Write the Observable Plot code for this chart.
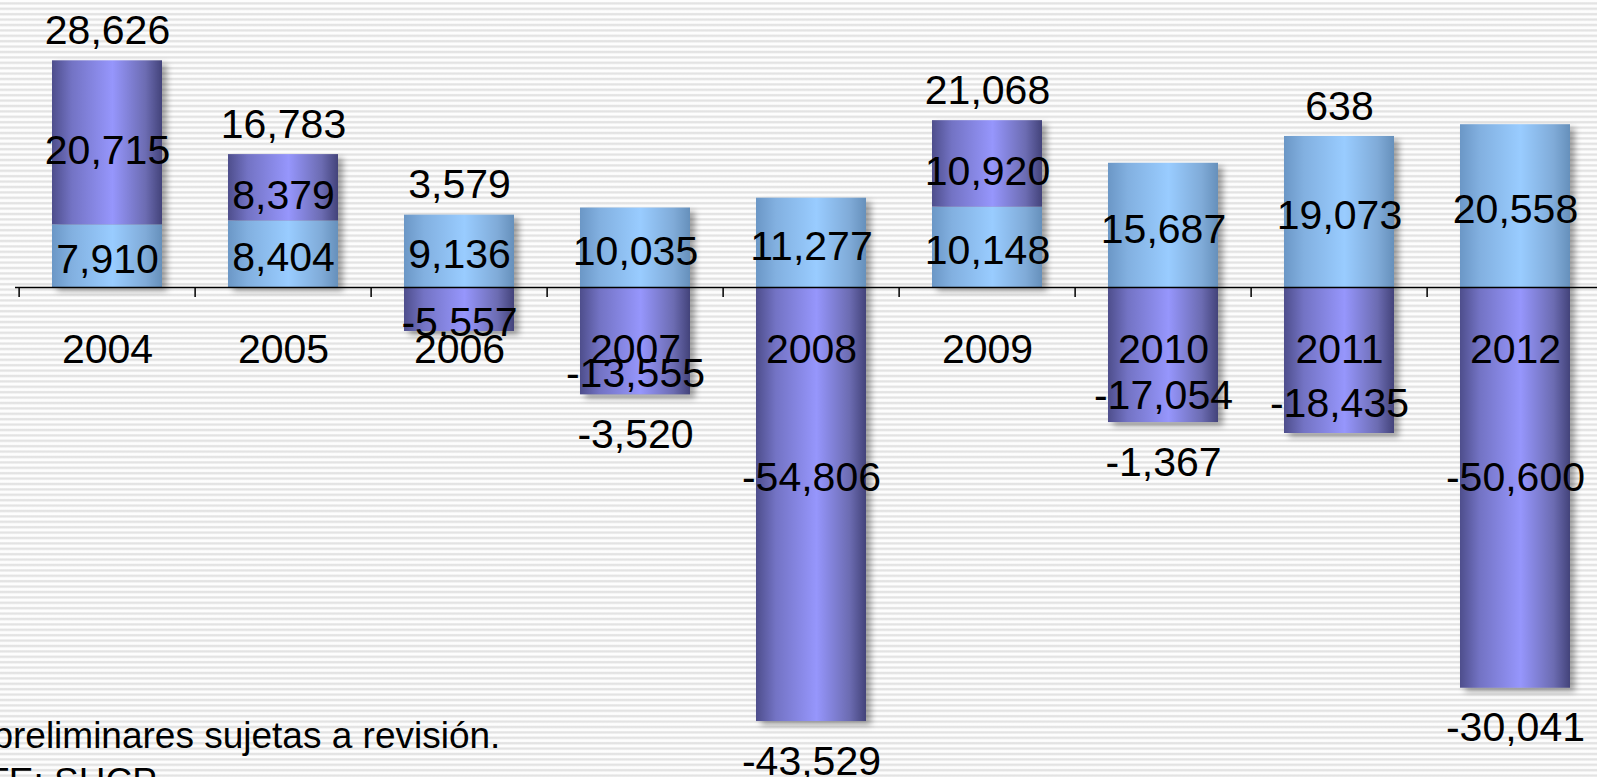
<!DOCTYPE html>
<html>
<head>
<meta charset="utf-8">
<script src="https://cdn.jsdelivr.net/npm/d3@7"></script>
<script src="https://cdn.jsdelivr.net/npm/@observablehq/plot@0.6"></script>
<style>
  html, body { margin: 0; padding: 0; background: #fff; overflow: hidden; }
  #chart svg {
    display: block;
    background: repeating-linear-gradient(to bottom, #fdfdfd 0px, #fdfdfd 1.6px, #e3e3e3 2.8px, #e3e3e3 3.8px, #fdfdfd 5.4px);
  }
  #chart g[aria-label="bar"] { filter: drop-shadow(5px 4px 3px rgba(0,0,0,0.35)); }
</style>
</head>
<body>
<div id="chart"></div>
<script>
// ---- data ----
const years = ["2004", "2005", "2006", "2007", "2008", "2009", "2010", "2011", "2012"];
const blueValues = [7910, 8404, 9136, 10035, 11277, 10148, 15687, 19073, 20558];
const purpleValues = [20715, 8379, -5557, -13555, -54806, 10920, -17054, -18435, -50600];
const totals = [28626, 16783, 3579, -3520, -43529, 21068, -1367, 638, -30041];
const notes = ["Cifras preliminares sujetas a revisión.", "FUENTE: SHCP"];

// ---- layout ----
const W = 1597, H = 777;
const xRange = [15.3, 1606];
const step = (xRange[1] - xRange[0]) / years.length;
const yDomain = [-61870, 36240];
const unitsPerPx = (yDomain[1] - yDomain[0]) / H;
const fmt = v => v.toLocaleString("en-US");
const FONT = "'Liberation Sans', Arial, Helvetica, sans-serif";

const rows = [];
years.forEach((y, i) => {
  rows.push({year: y, value: blueValues[i], fill: "url(#gBlue)"});
  rows.push({year: y, value: purpleValues[i], fill: "url(#gPurple)"});
});

const blueLabels = years.map((y, i) => ({year: y, v: blueValues[i], pos: blueValues[i] / 2}));
const purplePos = years.map((y, i) => ({year: y, v: purpleValues[i], a: blueValues[i]}))
  .filter(d => d.v > 0).map(d => ({...d, pos: d.a + d.v / 2}));
const purpleNeg = years.map((y, i) => ({year: y, v: purpleValues[i]}))
  .filter(d => d.v < 0).map(d => ({...d, pos: Math.max(d.v * 0.8, -24000)}));
const totalPos = years.map((y, i) => ({year: y, v: totals[i], top: blueValues[i] + Math.max(purpleValues[i], 0)}))
  .filter(d => d.v >= 0);
const totalNeg = years.map((y, i) => ({year: y, v: totals[i], bottom: Math.min(purpleValues[i], 0)}))
  .filter(d => d.v < 0);

const plot = Plot.plot({
  width: W,
  height: H,
  marginTop: 0, marginBottom: 0, marginLeft: 15, marginRight: 0,
  style: {fontFamily: FONT, color: "#000"},
  x: {type: "band", domain: years, range: xRange, paddingInner: 0.377, paddingOuter: 0.1885, axis: null},
  y: {domain: yDomain, axis: null},
  color: {type: "identity"},
  marks: [
    Plot.barY(rows, Plot.stackY({x: "year", y: "value", fill: "fill", order: null})),
    Plot.ruleY([0], {stroke: "#000", strokeWidth: 1.5}),
    Plot.ruleX(years, {x: d => d, y1: 0, y2: -10 * unitsPerPx, dx: -step / 2, stroke: "#000", strokeWidth: 1.5}),
    Plot.text(years, {x: d => d, y: 0, dy: 62, text: d => d, fontSize: 41}),
    Plot.text(blueLabels, {x: "year", y: "pos", dy: 4, text: d => fmt(d.v), fontSize: 41}),
    Plot.text(purplePos, {x: "year", y: "pos", dy: 8, text: d => fmt(d.v), fontSize: 41}),
    Plot.text(purpleNeg, {x: "year", y: "pos", text: d => fmt(d.v), fontSize: 41}),
    Plot.text(totalPos, {x: "year", y: "top", dy: -30, text: d => fmt(d.v), fontSize: 41}),
    Plot.text(totalNeg, {x: "year", y: "bottom", dy: 40, text: d => fmt(d.v), fontSize: 41}),
    Plot.text([notes[0]], {frameAnchor: "top-left", lineAnchor: "middle", dx: -130, dy: 736, textAnchor: "start", text: d => d, fontSize: 37}),
    Plot.text([notes[1]], {frameAnchor: "top-left", lineAnchor: "middle", dx: -130, dy: 782, textAnchor: "start", text: d => d, fontSize: 37})
  ]
});

// gradients giving the cylinder look
const svg = d3.select(plot);
const defs = svg.insert("defs", ":first-child");
function grad(id, stops) {
  const g = defs.append("linearGradient").attr("id", id).attr("x1", "0").attr("x2", "1").attr("y1", "0").attr("y2", "0");
  stops.forEach(([o, c]) => g.append("stop").attr("offset", o).attr("stop-color", c));
}
grad("gBlue", [["0", "#6b97c6"], ["0.18", "#82b0e0"], ["0.55", "#99ccff"], ["0.85", "#80abd8"], ["1", "#6690bb"]]);
grad("gPurple", [["0", "#4e4e8c"], ["0.18", "#7373c4"], ["0.55", "#9696fc"], ["0.85", "#6c6cb2"], ["1", "#43437a"]]);

document.getElementById("chart").appendChild(plot);
</script>
</body>
</html>
